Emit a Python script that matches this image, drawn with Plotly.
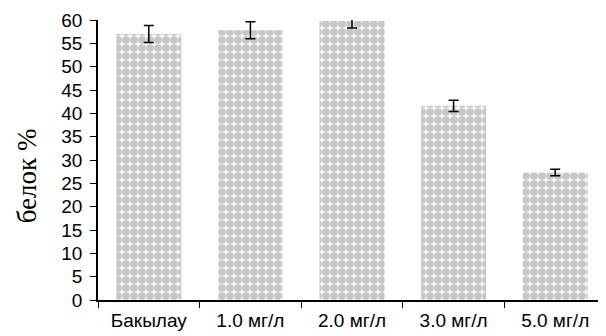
import plotly.graph_objects as go

categories = ["Бакылау", "1.0 мг/л", "2.0 мг/л", "3.0 мг/л", "5.0 мг/л"]
values = [57.0, 57.8, 59.8, 41.6, 27.3]
errors = [1.8, 1.8, 1.5, 1.2, 0.7]
y_ticks = list(range(0, 61, 5))
y_title = "белок %"

fig = go.Figure()
fig.add_trace(go.Bar(
    x=categories, y=values,
    width=0.64,
    marker=dict(
        color="#c6c6c6",
        line=dict(width=0),
        pattern=dict(shape=".", fgcolor="#c6c6c6", bgcolor="#f6f6f6",
                     size=8, solidity=0.72, fillmode="replace"),
    ),
    error_y=dict(type="data", array=errors, visible=True, color="black",
                 thickness=1.5, width=5),
))

# page body has an 8px margin, so the figure is sized/offset to compensate
fig.update_layout(
    width=598, height=328,
    margin=dict(l=90, r=0, t=12, b=36),
    plot_bgcolor="white", paper_bgcolor="white",
    showlegend=False,
    font=dict(family="Liberation Sans, Arial", size=19, color="black"),
)
fig.update_xaxes(
    range=[-0.5, 4.5], showline=True, linecolor="black", linewidth=1.5,
    ticks="outside", tickson="boundaries", ticklen=6, tickcolor="black",
    tickwidth=1.2, showgrid=False, tickfont=dict(size=19), automargin=False,
    ticklabelstandoff=2,
)
fig.update_yaxes(
    range=[0, 60], tickvals=y_ticks, showline=True, linecolor="black",
    linewidth=1.5, ticks="outside", ticklen=6, tickcolor="black",
    tickwidth=1.2, showgrid=False, zeroline=False, automargin=False,
    ticklabelstandoff=4, tickfont=dict(size=19),
)
fig.add_annotation(
    text=y_title, textangle=-90, xref="paper", yref="paper",
    x=-0.138, y=0.445, xanchor="center", yanchor="middle", showarrow=False,
    font=dict(family="Liberation Serif, Times New Roman, serif", size=27, color="black"),
)
fig.write_html("out.html")
